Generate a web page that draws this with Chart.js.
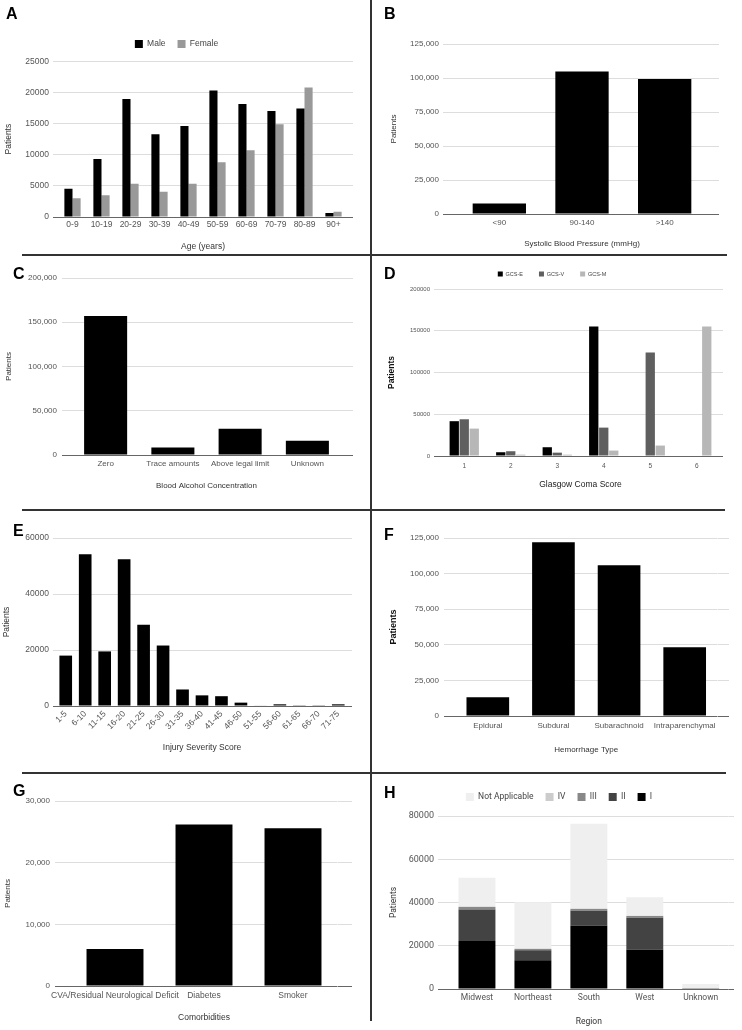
<!DOCTYPE html>
<html lang="en">
<head>
<meta charset="utf-8">
<title>TBI patient characteristics</title>
<script src="https://cdn.jsdelivr.net/npm/chart.js@4.4.1/dist/chart.umd.min.js"></script>
<style>
  body { margin: 0; background: #fff; }
  #figure { position: relative; width: 742px; height: 1030px; overflow: hidden; background: #fff; }
  .panel { position: absolute; }
  .panel canvas { display: block; }
  .letter { position: absolute; font: bold 16px/16px "Liberation Sans", Arial, sans-serif; color: #000; }
  .rule { position: absolute; background: #333; }
</style>
</head>
<body>
<div id="figure">
  <div class="panel" style="left:0;top:0;width:371px;height:255px;"><canvas id="chartA"></canvas></div>
  <div class="panel" style="left:371px;top:0;width:371px;height:255px;"><canvas id="chartB"></canvas></div>
  <div class="panel" style="left:0;top:255px;width:371px;height:255px;"><canvas id="chartC"></canvas></div>
  <div class="panel" style="left:371px;top:255px;width:371px;height:255px;"><canvas id="chartD"></canvas></div>
  <div class="panel" style="left:0;top:510px;width:371px;height:263px;"><canvas id="chartE"></canvas></div>
  <div class="panel" style="left:371px;top:510px;width:371px;height:263px;"><canvas id="chartF"></canvas></div>
  <div class="panel" style="left:0;top:773px;width:371px;height:257px;"><canvas id="chartG"></canvas></div>
  <div class="panel" style="left:371px;top:773px;width:371px;height:257px;"><canvas id="chartH"></canvas></div>

  <!-- panel frame lines -->
  <div class="rule" style="left:370px;top:0;width:2px;height:1021px;"></div>
  <div class="rule" style="left:22px;top:254px;width:705px;height:2px;"></div>
  <div class="rule" style="left:22px;top:509px;width:703px;height:2px;"></div>
  <div class="rule" style="left:22px;top:772px;width:704px;height:2px;"></div>

  <div class="letter" style="left:6px;top:6px;">A</div>
  <div class="letter" style="left:384px;top:6px;">B</div>
  <div class="letter" style="left:13px;top:266px;">C</div>
  <div class="letter" style="left:384px;top:266px;">D</div>
  <div class="letter" style="left:13px;top:523px;">E</div>
  <div class="letter" style="left:384px;top:527px;">F</div>
  <div class="letter" style="left:13px;top:783px;">G</div>
  <div class="letter" style="left:384px;top:785px;">H</div>
</div>

<script>
// A - age and sex
const ageLabels = ['0-9', '10-19', '20-29', '30-39', '40-49', '50-59', '60-69', '70-79', '80-89', '90+'];
const ageMale = [4550, 9300, 18950, 13300, 14600, 20300, 18150, 17000, 17400, 650];
const ageFemale = [3000, 3500, 5350, 4050, 5350, 8800, 10700, 14900, 20800, 850];
const ageTicks = [0, 5000, 10000, 15000, 20000, 25000];

// B - systolic blood pressure
const sbpLabels = ['<90', '90-140', '>140'];
const sbpValues = [7800, 104700, 99300];
const sbpTicks = [0, 25000, 50000, 75000, 100000, 125000];

// C - blood alcohol
const bacLabels = ['Zero', 'Trace amounts', 'Above legal limit', 'Unknown'];
const bacValues = [157000, 8600, 29700, 16200];
const bacTicks = [0, 50000, 100000, 150000, 200000];

// D - Glasgow coma score components
const gcsLabels = ['1', '2', '3', '4', '5', '6'];
const gcsEye = [41700, 4500, 10500, 155000, 0, 0];
const gcsVerbal = [44000, 5700, 4000, 34000, 124000, 0];
const gcsMotor = [32800, 1600, 1600, 6500, 12500, 155000];
const gcsTicks = [0, 50000, 100000, 150000, 200000];

// E - injury severity score
const issLabels = ['1-5', '6-10', '11-15', '16-20', '21-25', '26-30', '31-35', '36-40',
  '41-45', '46-50', '51-55', '56-60', '61-65', '66-70', '71-75'];
const issValues = [18000, 54200, 19500, 52400, 29000, 21600, 5900, 3800, 3500, 1200, 200, 600, 100, 100, 600];
const issTicks = [0, 20000, 40000, 60000];

// F - hemorrhage type
const hemLabels = ['Epidural', 'Subdural', 'Subarachnoid', 'Intraparenchymal'];
const hemValues = [13100, 122000, 105900, 48200];
const hemTicks = [0, 25000, 50000, 75000, 100000, 125000];

// G - comorbidities
const comLabels = ['CVA/Residual Neurological Deficit', 'Diabetes', 'Smoker'];
const comValues = [6000, 26200, 25600];
const comTicks = [0, 10000, 20000, 30000];

// H - region by trauma level
const regLabels = ['Midwest', 'Northeast', 'South', 'West', 'Unknown'];
const regLevelI = [22200, 13300, 29300, 18200, 100];
const regLevelII = [14600, 4600, 6900, 14800, 0];
const regLevelIII = [1100, 600, 800, 700, 0];
const regLevelIV = [300, 200, 200, 200, 0];
const regNotApplicable = [13300, 21400, 39200, 8500, 2200];
const regTicks = [0, 20000, 40000, 60000, 80000];


Chart.defaults.font.family = '"Liberation Sans", Arial, sans-serif';
Chart.defaults.color = '#555';

const gridColor = ctx => (ctx.tick && ctx.tick.value === 0 ? '#666' : '#dddddd');

// push the plot down a little below the legend
function legendGap(px) {
    return {
        id: 'legendGap',
        beforeInit(chart) {
            const fit = chart.legend.fit;
            chart.legend.fit = function () {
                fit.call(this);
                this.height += px;
            };
        }
    };
}

function bars(label, data, color, cp, bp) {
    return { label: label, data: data, backgroundColor: color, borderWidth: 0,
             categoryPercentage: cp, barPercentage: bp || 1 };
}

// one bar panel; axis boxes are fixed so the plots line up with the figure
function makePanel(id, labels, datasets, p) {
    const yMax = p.yTicks[p.yTicks.length - 1];
    const yStep = p.yTicks[1] - p.yTicks[0];
    const fmt = p.commas ? v => v.toLocaleString('en-US') : v => String(v);
    const fam = p.family;

    const legend = p.legend ? {
        display: true,
        position: 'top',
        reverse: !!p.legend.reverse,
        labels: { boxWidth: p.legend.box, boxHeight: p.legend.box, padding: p.legend.padding,
                  color: '#444', font: { size: p.legend.size, family: fam } }
    } : { display: false };

    const config = {
        type: 'bar',
        data: { labels: labels, datasets: datasets },
        options: {
            responsive: true,
            maintainAspectRatio: false,
            animation: false,
            layout: { padding: p.padding },
            plugins: { legend: legend, tooltip: { enabled: false } },
            scales: {
                x: {
                    stacked: !!p.stacked,
                    grid: { display: false, drawTicks: false },
                    border: { display: false },
                    ticks: {
                        autoSkip: false,
                        minRotation: p.rotate || 0,
                        maxRotation: p.rotate || 0,
                        padding: p.xTickPad,
                        color: '#555',
                        font: { size: p.xTickSize, family: fam }
                    },
                    title: {
                        display: true,
                        text: p.xTitle,
                        color: p.xTitleColor || '#333',
                        font: { size: p.xTitleSize, family: fam },
                        padding: { top: 0, bottom: p.xTitlePad }
                    },
                    afterFit: scale => { scale.height = p.xHeight; }
                },
                y: {
                    stacked: !!p.stacked,
                    min: 0,
                    max: yMax,
                    border: { display: false },
                    grid: { color: gridColor, drawTicks: true, tickLength: p.yTickLen },
                    ticks: { stepSize: yStep, padding: p.yTickPad, color: '#555',
                             font: { size: p.yTickSize, family: fam }, callback: fmt },
                    title: {
                        display: true,
                        text: 'Patients',
                        color: p.yTitleBold ? '#111' : '#333',
                        font: { size: p.yTitleSize, family: fam, weight: p.yTitleBold ? 'bold' : 'normal' },
                        padding: { top: p.yTitlePad, bottom: 0 }
                    },
                    afterFit: scale => { scale.width = p.yWidth; }
                },
                // only draws the grid stubs on the right of the plot
                y2: {
                    position: 'right',
                    min: 0,
                    max: yMax,
                    border: { display: false },
                    grid: { color: gridColor, drawOnChartArea: false, drawTicks: true, tickLength: p.y2Width },
                    ticks: { stepSize: yStep, display: false },
                    afterFit: scale => { scale.width = p.y2Width; }
                }
            }
        },
        plugins: p.legend ? [legendGap(p.legend.gap)] : []
    };
    return new Chart(document.getElementById(id), config);
}

makePanel('chartA', ageLabels, [
    bars('Male', ageMale, '#000000', 0.56),
    bars('Female', ageFemale, '#999999', 0.56)
], {
    padding: { top: 27.75, left: 0, right: 18, bottom: 0 },
    legend: { size: 8.5, box: 8, padding: 12, gap: 3 },
    yTicks: ageTicks, commas: false,
    yWidth: 58, yTickLen: 5, yTickPad: 4, y2Width: 5, yTickSize: 8.5,
    yTitleSize: 8.5, yTitlePad: 4,
    xHeight: 38, xTickPad: 3, xTickSize: 8.5,
    xTitle: 'Age (years)', xTitleSize: 8.5, xTitlePad: 3
});

makePanel('chartB', sbpLabels, [bars('Patients', sbpValues, '#000000', 0.645)], {
    padding: { top: 44, left: 14, right: 23, bottom: 0 },
    yTicks: sbpTicks, commas: true,
    yWidth: 73, yTickLen: 15, yTickPad: 4, y2Width: 13, yTickSize: 8,
    yTitleSize: 8, yTitlePad: 4,
    xHeight: 41, xTickPad: 4, xTickSize: 8,
    xTitle: 'Systolic Blood Pressure (mmHg)', xTitleSize: 8, xTitlePad: 6
});

makePanel('chartC', bacLabels, [bars('Patients', bacValues, '#000000', 0.64)], {
    padding: { top: 23, left: 0, right: 18, bottom: 14 },
    yTicks: bacTicks, commas: true,
    yWidth: 72, yTickLen: 10, yTickPad: 5, y2Width: 12, yTickSize: 8,
    yTitleSize: 8, yTitlePad: 4,
    xHeight: 41, xTickPad: 4, xTickSize: 8,
    xTitle: 'Blood Alcohol Concentration', xTitleSize: 8, xTitlePad: 5
});

makePanel('chartD', gcsLabels, [
    bars('GCS-E', gcsEye, '#000000', 0.645, 0.93),
    bars('GCS-V', gcsVerbal, '#5f5f5f', 0.645, 0.93),
    bars('GCS-M', gcsMotor, '#b7b7b7', 0.645, 0.93)
], {
    padding: { top: 0.25, left: 10, right: 19, bottom: 14 },
    legend: { size: 5.5, box: 5, padding: 16, gap: 2.25 },
    yTicks: gcsTicks, commas: false,
    yWidth: 60, yTickLen: 7, yTickPad: 4, y2Width: 3, yTickSize: 6,
    yTitleSize: 8.5, yTitleBold: true, yTitlePad: 5.9,
    xHeight: 40, xTickPad: 6, xTickSize: 6.5,
    xTitle: 'Glasgow Coma Score', xTitleSize: 8.5, xTitleColor: '#222', xTitlePad: 5.9
});

makePanel('chartE', issLabels, [bars('Patients', issValues, '#000000', 0.65)], {
    padding: { top: 28, left: 0, right: 19, bottom: 15 },
    yTicks: issTicks, commas: false,
    yWidth: 56, yTickLen: 3, yTickPad: 4, y2Width: 4, yTickSize: 8.5,
    yTitleSize: 8.5, yTitlePad: 2,
    xHeight: 52, xTickPad: 3, xTickSize: 8.5, rotate: 45,
    xTitle: 'Injury Severity Score', xTitleSize: 8.5, xTitlePad: 5
});

makePanel('chartF', hemLabels, [bars('Patients', hemValues, '#000000', 0.65)], {
    padding: { top: 28, left: 12, right: 13, bottom: 13 },
    yTicks: hemTicks, commas: true,
    yWidth: 72, yTickLen: 11, yTickPad: 5, y2Width: 11.5, yTickSize: 8,
    yTitleSize: 9, yTitleBold: true, yTitlePad: 5.6,
    xHeight: 44, xTickPad: 5, xTickSize: 8,
    xTitle: 'Hemorrhage Type', xTitleSize: 8, xTitlePad: 5.2
});

makePanel('chartG', comLabels, [bars('Patients', comValues, '#000000', 0.64)], {
    padding: { top: 28, left: 0, right: 19, bottom: 3 },
    yTicks: comTicks, commas: true,
    yWidth: 70.5, yTickLen: 15.5, yTickPad: 5, y2Width: 14.5, yTickSize: 8,
    yTitleSize: 8, yTitlePad: 3.2,
    xHeight: 41, xTickPad: 5, xTickSize: 8.5,
    xTitle: 'Comorbidities', xTitleSize: 8.5, xTitlePad: 3.9
});

// stacked from level I at the bottom; legend is listed the other way round
makePanel('chartH', regLabels, [
    bars('I', regLevelI, '#000000', 0.66),
    bars('II', regLevelII, '#434343', 0.66),
    bars('III', regLevelIII, '#888888', 0.66),
    bars('IV', regLevelIV, '#cccccc', 0.66),
    bars('Not Applicable', regNotApplicable, '#efefef', 0.66)
], {
    family: 'Roboto',
    stacked: true,
    padding: { top: 7.75, left: 13, right: 8, bottom: 0 },
    legend: { size: 8.5, box: 8, padding: 12, gap: 4.75, reverse: true },
    yTicks: regTicks, commas: false,
    yWidth: 65, yTickLen: 11, yTickPad: 4, y2Width: 5.3, yTickSize: 9,
    yTitleSize: 8.5, yTitlePad: 4.9,
    xHeight: 41, xTickPad: 3.9, xTickSize: 8.5,
    xTitle: 'Region', xTitleSize: 8.5, xTitlePad: 2.9
});
</script>
</body>
</html>
